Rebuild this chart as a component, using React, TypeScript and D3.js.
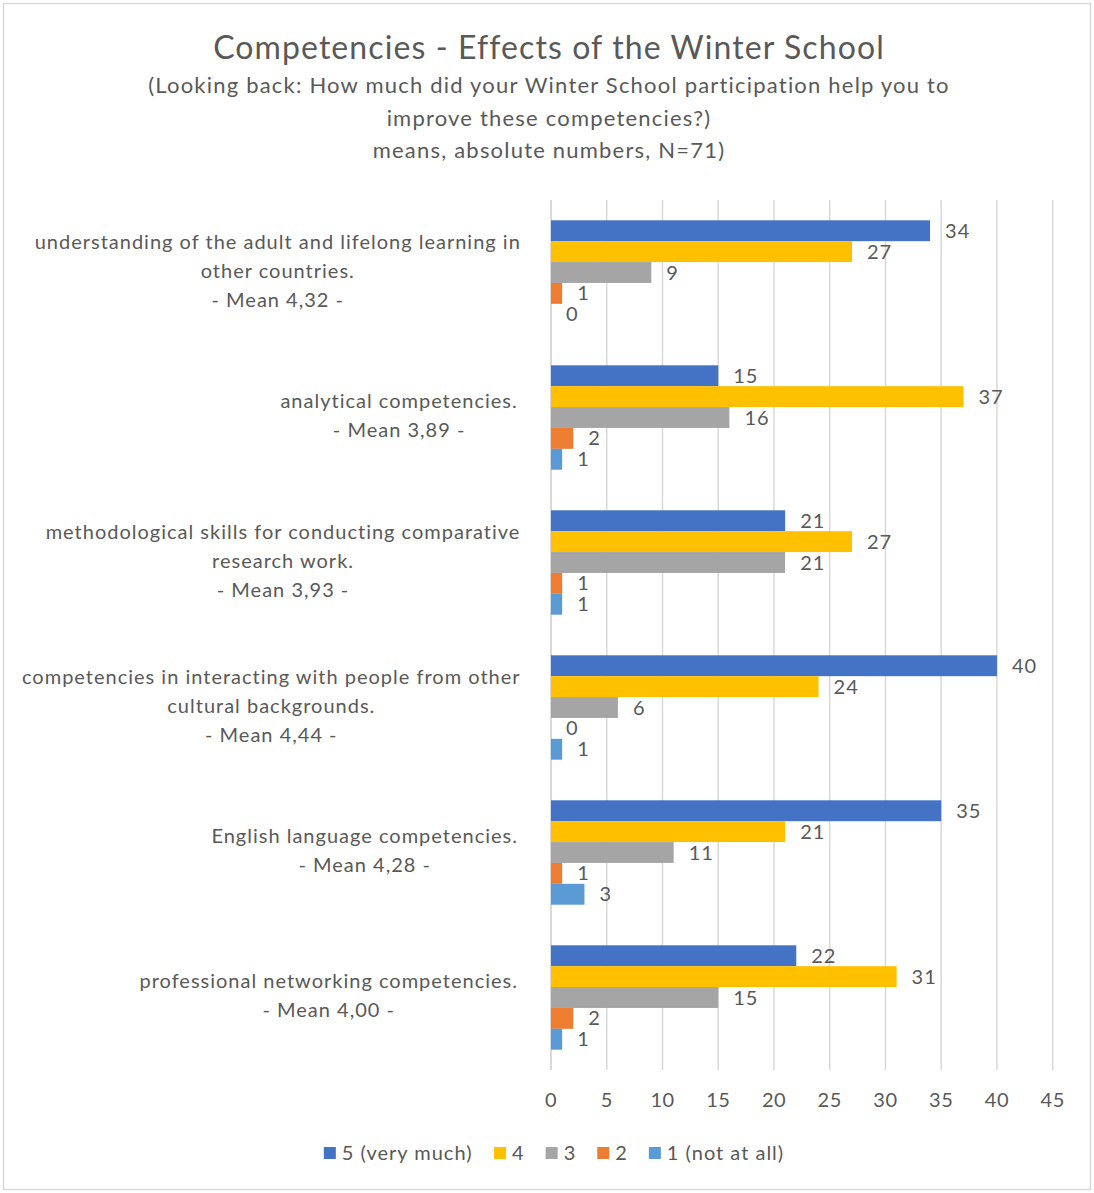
import React from "react";
import * as d3 from "d3";

const categories = [
  "understanding of the adult and lifelong learning in other countries.",
  "analytical competencies.",
  "methodological skills for conducting comparative research work.",
  "competencies in interacting with people from other cultural backgrounds.",
  "English language competencies.",
  "professional networking competencies.",
];
const categoryLines: string[][] = [
  ["understanding of the adult and lifelong learning in", "other countries.", "- Mean 4,32 -"],
  ["analytical competencies. ", "- Mean 3,89 -"],
  ["methodological skills for conducting comparative", "research work.", "- Mean 3,93 -"],
  ["competencies in interacting with people from other", "cultural backgrounds.", "- Mean 4,44 -"],
  ["English language competencies. ", "- Mean 4,28 -"],
  ["professional networking competencies. ", "- Mean 4,00 -"],
];
const seriesNames = ["5 (very much)", "4", "3", "2", "1 (not at all)"];
const seriesColors = ["#4472C4", "#FFC000", "#A5A5A5", "#ED7D31", "#5B9BD5"];
const v5 = [34, 15, 21, 40, 35, 22];
const v4 = [27, 37, 27, 24, 21, 31];
const v3 = [9, 16, 21, 6, 11, 15];
const v2 = [1, 2, 1, 0, 1, 2];
const v1 = [0, 1, 1, 1, 3, 1];
const seriesValues = [v5, v4, v3, v2, v1];
const xTicks = [0, 5, 10, 15, 20, 25, 30, 35, 40, 45];

const titleText = "Competencies  - Effects of the Winter School";
const subtitleLines = [
  "(Looking back: How much did your Winter School participation help you to",
  "improve these competencies?)",
  "means, absolute numbers, N=71)",
];

const FONT = "Lato, 'Open Sans', sans-serif";
const TEXT = "#595959";

let ctx: CanvasRenderingContext2D | null = null;
function measure(text: string, size: number, ls: number) {
  if (!ctx) ctx = document.createElement("canvas").getContext("2d");
  if (!ctx) return text.length * (size * 0.5 + ls);
  ctx.font = `${size}px Lato`;
  return ctx.measureText(text).width + text.length * ls;
}

export default function App() {
  const W = 1094, H = 1193;
  const plotLeft = 551, plotRight = 1052.7, plotTop = 200, plotBottom = 1070;
  const x = d3.scaleLinear().domain([0, 45]).range([plotLeft, plotRight]);
  const y0 = d3.scaleBand<string>().domain(categories).range([plotTop, plotBottom]).paddingInner(0.28).paddingOuter(0.14);
  const y1 = d3.scaleBand<string>().domain(seriesNames).range([0, y0.bandwidth()]);

  const labelSize = 20;
  const LS = 1.0;
  const lineH = 29;

  // legend layout
  const legSize = 20;
  const items = seriesNames.map((n) => ({ n, w: 12 + 6 + measure(n, legSize, LS) }));
  const gap = 21;
  const totalW = d3.sum(items, (d) => d.w) + gap * (items.length - 1);
  let lx = 554 - totalW / 2;
  const legendPos = items.map((it) => {
    const p = lx;
    lx += it.w + gap;
    return p;
  });

  return (
    <svg width={W} height={H} style={{ position: "absolute", left: 0, top: 0, fontFamily: FONT }}>
      <rect x={0} y={0} width={W} height={H} fill="#fff" />
      <rect x={3.5} y={3.5} width={W - 7} height={H - 7} fill="#fff" stroke="#d9d9d9" strokeWidth={1.5} />
      <text x={549} y={59} textAnchor="middle" fontSize={32} letterSpacing={1.1} fill={TEXT}>{titleText}</text>
      {subtitleLines.map((l, i) => (
        <text key={i} x={549} y={93 + i * 32.5} textAnchor="middle" fontSize={22} letterSpacing={1.2} fill={TEXT}>{l}</text>
      ))}
      {xTicks.map((t) => (
        <g key={t}>
          <line x1={x(t)} x2={x(t)} y1={plotTop} y2={plotBottom} stroke="#d9d9d9" strokeWidth={1.5} />
          <text x={x(t)} y={1107} textAnchor="middle" fontSize={20} letterSpacing={0.5} fill={TEXT}>{t}</text>
        </g>
      ))}
      <line x1={x(0)} x2={x(0)} y1={plotTop} y2={plotBottom} stroke="#d9d9d9" strokeWidth={2} />
      {categories.map((c, ci) => {
        const gy = y0(c)!;
        return (
          <g key={c}>
            {seriesNames.map((s, si) => {
              const v = seriesValues[si][ci];
              const by = gy + y1(s)!;
              return (
                <g key={s}>
                  <rect x={x(0)} y={by} width={x(v) - x(0)} height={y1.bandwidth()} fill={seriesColors[si]} />
                  <text x={x(v) + 15} y={by + y1.bandwidth() / 2 + 7} fontSize={20} letterSpacing={1} fill={TEXT}>{v}</text>
                </g>
              );
            })}
          </g>
        );
      })}
      {categories.map((c, ci) => {
        const lines = categoryLines[ci];
        const maxW = d3.max(lines, (l) => measure(l, labelSize, LS))!;
        const cx = 521 - maxW / 2;
        const cy = y0(c)! + y0.bandwidth() / 2;
        const startY = cy - ((lines.length - 1) * lineH) / 2;
        return (
          <g key={"lab" + ci}>
            {lines.map((l, li) => (
              <text key={li} x={cx} y={startY + li * lineH + 5} textAnchor="middle" fontSize={labelSize} letterSpacing={LS} fill={TEXT}>{l.trim()}</text>
            ))}
          </g>
        );
      })}
      {items.map((it, i) => (
        <g key={it.n}>
          <rect x={legendPos[i]} y={1147} width={12} height={12} fill={seriesColors[i]} />
          <text x={legendPos[i] + 18} y={1160} fontSize={legSize} letterSpacing={LS} fill={TEXT}>{it.n}</text>
        </g>
      ))}
    </svg>
  );
}
